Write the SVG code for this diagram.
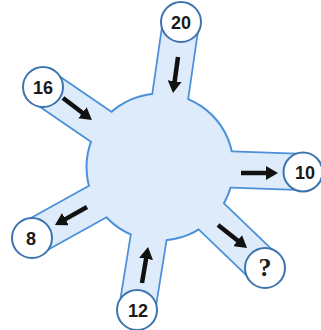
<svg xmlns="http://www.w3.org/2000/svg" width="321" height="330" viewBox="0 0 321 330">
<style>
.ao{stroke:#4a90d9;stroke-width:38;stroke-linecap:butt}
.ai{stroke:#deebfa;stroke-width:34.5;stroke-linecap:butt}
.sn{fill:#ffffff;stroke:#3d74ad;stroke-width:2}
.lb{font-family:"Liberation Sans",Arial,sans-serif;font-weight:bold;font-size:18px;fill:#1a1a1a;text-anchor:middle}
.q{font-family:"Liberation Serif","Times New Roman",serif;font-weight:bold;font-size:26px;fill:#1a1a1a;text-anchor:middle}
.ar{stroke:#111;stroke-width:4.5;fill:none;marker-end:url(#ah)}
</style>
<defs>
<marker id="ah" markerUnits="userSpaceOnUse" markerWidth="13" markerHeight="14" refX="2" refY="7" orient="auto">
<path d="M0,0 L12,7 L0,14 z" fill="#111"/>
</marker>
</defs>
<g id="hub">
<g id="outline">
<line class="ao" x1="160" y1="167" x2="181" y2="22"/>
<line class="ao" x1="160" y1="167" x2="43" y2="87"/>
<line class="ao" x1="160" y1="167" x2="303" y2="172"/>
<line class="ao" x1="160" y1="167" x2="32" y2="238"/>
<line class="ao" x1="160" y1="167" x2="137" y2="310"/>
<line class="ao" x1="160" y1="167" x2="265" y2="268"/>
<circle cx="160" cy="167" r="74.5" fill="#4a90d9"/>
</g>
<g id="fill">
<line class="ai" x1="160" y1="167" x2="181" y2="22"/>
<line class="ai" x1="160" y1="167" x2="43" y2="87"/>
<line class="ai" x1="160" y1="167" x2="303" y2="172"/>
<line class="ai" x1="160" y1="167" x2="32" y2="238"/>
<line class="ai" x1="160" y1="167" x2="137" y2="310"/>
<line class="ai" x1="160" y1="167" x2="265" y2="268"/>
<circle cx="160" cy="167" r="72.5" fill="#deebfa"/>
</g>
</g>
<g id="connectors">
<line class="ar" x1="178" y1="57" x2="174.4" y2="83.1"/>
<line class="ar" x1="63" y1="98" x2="84" y2="114"/>
<line class="ar" x1="241" y1="173" x2="268" y2="173"/>
<line class="ar" x1="87" y1="207" x2="63.7" y2="220.1"/>
<line class="ar" x1="142" y1="283" x2="146.4" y2="256.9"/>
<line class="ar" x1="218" y1="225" x2="239.2" y2="241.8"/>
</g>
<g id="n20"><circle class="sn" cx="181" cy="22" r="20"/><text class="lb" x="181" y="28.5">20</text></g>
<g id="n16"><circle class="sn" cx="43" cy="87" r="20"/><text class="lb" x="43" y="93.5">16</text></g>
<g id="n10"><circle class="sn" cx="303" cy="172" r="19.5"/><text class="lb" x="305" y="178.5">10</text></g>
<g id="n8"><circle class="sn" cx="32" cy="238" r="20"/><text class="lb" x="31" y="244.5">8</text></g>
<g id="n12"><circle class="sn" cx="137" cy="310" r="20"/><text class="lb" x="138" y="316.5">12</text></g>
<g id="nq"><circle class="sn" cx="265" cy="268" r="20"/><text class="q" x="265" y="276">?</text></g>
</svg>
